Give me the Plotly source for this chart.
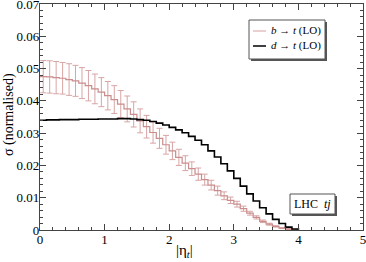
import numpy as np
import plotly.graph_objects as go

# bin lower edges, width 0.1, 0 .. 4.0
bin_edges = [round(v, 1) for v in np.arange(0.0, 4.01, 0.1)]

b_to_t = [0.0475, 0.0474, 0.0472, 0.0470, 0.0466, 0.0462, 0.0455, 0.0447, 0.0437, 0.0427,
          0.0416, 0.0404, 0.0390, 0.0375, 0.0358, 0.0338, 0.0320, 0.0302, 0.0284, 0.0264,
          0.0245, 0.0225, 0.0207, 0.0190, 0.0173, 0.0156, 0.0139, 0.0122, 0.0106, 0.0092,
          0.0080, 0.0066, 0.0052, 0.0039, 0.0027, 0.0018, 0.0011, 0.0006, 0.0003, 0.0001]
b_to_t_err = [0.0050, 0.0050, 0.0050, 0.0049, 0.0049, 0.0048, 0.0048, 0.0047, 0.0046, 0.0045,
              0.0044, 0.0043, 0.0042, 0.0040, 0.0039, 0.0037, 0.0035, 0.0033, 0.0031, 0.0029,
              0.0027, 0.0025, 0.0023, 0.0021, 0.0019, 0.0017, 0.0015, 0.0014, 0.0012, 0.0010,
              0.0009, 0.0008, 0.0006, 0.0005, 0.0004, 0.0003, 0.0002, 0.0001, 0.0001, 0.0000]
d_to_t = [0.0340, 0.0341, 0.0341, 0.0342, 0.0342, 0.0342, 0.0343, 0.0343, 0.0343, 0.0344,
          0.0344, 0.0344, 0.0345, 0.0345, 0.0344, 0.0342, 0.0340, 0.0336, 0.0331, 0.0325,
          0.0318, 0.0310, 0.0301, 0.0290, 0.0278, 0.0264, 0.0245, 0.0226, 0.0205, 0.0183,
          0.0160, 0.0136, 0.0112, 0.0090, 0.0069, 0.0050, 0.0033, 0.0020, 0.0009, 0.0003]

x_ticks = [0, 1, 2, 3, 4, 5]
y_ticks = [0, 0.01, 0.02, 0.03, 0.04, 0.05, 0.06, 0.07]
y_ticklabels = ["0", "0.01", "0.02", "0.03", "0.04", "0.05", "0.06", "0.07"]
legend_labels = ["<i>b</i> → <i>t</i> (LO)", "<i>d</i> → <i>t</i> (LO)"]

centers = [round(e + 0.05, 2) for e in bin_edges[:-1]]
pink = "rgb(202,140,140)"
pink_err = "rgb(216,165,165)"
legend_pink = "rgb(228,190,190)"
font_family = "Liberation Serif, Times New Roman, serif"

W, H = 366, 262
ML, MR, MT, MB = 40, 3, 4, 32
PW, PH = W - ML - MR, H - MT - MB


def px(xp):
    return (xp - ML) / PW


def py(yp):
    return (H - MB - yp) / PH


fig = go.Figure()
fig.add_trace(go.Scatter(x=centers, y=b_to_t, mode="markers", marker=dict(size=0.1, color=pink),
                         error_y=dict(type="data", array=b_to_t_err, color=pink_err, thickness=1, width=3),
                         showlegend=False, hoverinfo="skip"))
fig.add_trace(go.Scatter(x=bin_edges, y=b_to_t + [0], mode="lines",
                         line=dict(shape="hv", color=pink, width=1.2), showlegend=False))
fig.add_trace(go.Scatter(x=bin_edges, y=d_to_t + [0], mode="lines",
                         line=dict(shape="hv", color="black", width=1.6), showlegend=False))

axis_common = dict(showline=True, linecolor="#444", linewidth=1.3, mirror="allticks", ticks="inside",
                   tickcolor="#444", showgrid=False, zeroline=False, automargin=False,
                   ticklabeloverflow="allow",
                   tickfont=dict(family=font_family, size=13, color="black"))
fig.update_xaxes(range=[0, 5], tickvals=x_ticks, ticklen=6, tickwidth=1, ticklabelstandoff=-3,
                 minor=dict(dtick=0.2, ticks="inside", ticklen=3, tickcolor="#444", showgrid=False),
                 **axis_common)
fig.update_yaxes(range=[0, 0.07], tickvals=y_ticks, ticktext=y_ticklabels, ticklen=6, tickwidth=1,
                 ticklabelstandoff=-3,
                 minor=dict(dtick=0.002, ticks="inside", ticklen=3, tickcolor="#444", showgrid=False),
                 **axis_common)

shapes = [
    # legend box with shadow
    dict(type="rect", xref="paper", yref="paper", x0=px(251), x1=px(327), y0=py(61), y1=py(22),
         fillcolor="#555", line=dict(width=0), layer="above"),
    dict(type="rect", xref="paper", yref="paper", x0=px(249), x1=px(325), y0=py(59), y1=py(20),
         fillcolor="white", line=dict(color="#555", width=1), layer="above"),
    dict(type="line", xref="paper", yref="paper", x0=px(253), x1=px(266), y0=py(31), y1=py(31),
         line=dict(color=legend_pink, width=1.5), layer="above"),
    dict(type="line", xref="paper", yref="paper", x0=px(253), x1=px(266), y0=py(46), y1=py(46),
         line=dict(color="black", width=1.5), layer="above"),
    # label box with shadow
    dict(type="rect", xref="paper", yref="paper", x0=px(292), x1=px(337), y0=py(216), y1=py(196),
         fillcolor="#555", line=dict(width=0), layer="above"),
    dict(type="rect", xref="paper", yref="paper", x0=px(290), x1=px(335), y0=py(214), y1=py(194),
         fillcolor="white", line=dict(color="#555", width=1), layer="above"),
]

annotations = [
    dict(x=px(269), y=py(31), xref="paper", yref="paper", text=legend_labels[0], showarrow=False,
         xanchor="left", yanchor="middle", font=dict(family=font_family, size=11, color="black")),
    dict(x=px(269), y=py(46), xref="paper", yref="paper", text=legend_labels[1], showarrow=False,
         xanchor="left", yanchor="middle", font=dict(family=font_family, size=11, color="black")),
    dict(x=px(312.5), y=py(204), xref="paper", yref="paper", text="LHC  <i>tj</i>", showarrow=False,
         xanchor="center", yanchor="middle", font=dict(family=font_family, size=12, color="black")),
    dict(x=px(184), y=py(251), xref="paper", yref="paper", text="|η<sub><i>t</i></sub>|", showarrow=False,
         xanchor="center", yanchor="middle", font=dict(family=font_family, size=15, color="black")),
    dict(x=px(9), y=py(115), xref="paper", yref="paper", text="σ (normalised)", showarrow=False,
         textangle=-90, xanchor="center", yanchor="middle",
         font=dict(family=font_family, size=14, color="black")),
]

fig.update_layout(
    width=W, height=H,
    margin=dict(l=ML, r=MR, t=MT, b=MB),
    paper_bgcolor="white", plot_bgcolor="white",
    font=dict(family=font_family, size=11, color="black"),
    showlegend=False,
    shapes=shapes,
    annotations=annotations,
)

fig.write_html("out.html", config={"displayModeBar": False},
               post_script="document.body.style.margin='0';document.body.style.padding='0';")
